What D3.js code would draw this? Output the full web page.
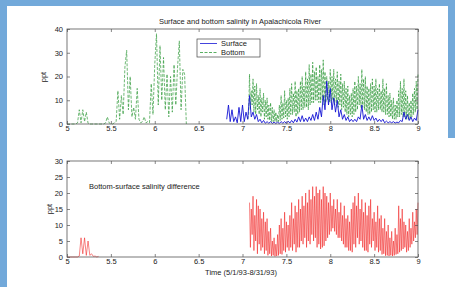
<!DOCTYPE html>
<html>
<head>
<meta charset="utf-8">
<script src="https://cdn.jsdelivr.net/npm/d3@7"></script>
<style>
  body { margin: 0; background: #fff; }
  text { font-family: "Liberation Sans", Arial, sans-serif; fill: #222; }
</style>
</head>
<body>
<div id="chart"></div>
<script>
// sampling grids of the record (months)
const dtCoarse = 0.02;
const dtFine = 0.01;

// bottom salinity, first stretch from 5.00 (coarse grid)
const bottomStartA = 5.00;
const bottomA = [0,0,0,0,0,0,0.5,6,0.5,6,1,5,0.3,0,0,0,0,0,0,0,0,0,0.5,3,0.5,0,0,0.5,1,14,2,12,4,24,31,6,20,3,7,2,15,2,0.5,1,3,0.5,1,0.5,17,4,25,38,8,33,10,28,6,21,3,20,5,25,8,24,35,6,23,21,0];
// bottom salinity, second stretch from 7.06 (fine grid)
const bottomStartB = 7.06;
const bottomB = [2,4,
  21,6,14,8, 19,5,16,4, 17,6,12,4, 15,3,11,5, 13,2,10,3, 11,2,8,1.5, 9,1,7,1, 6,1,5,0.8,
  4,1,8,1.5, 12,2,9,2.5, 14,3,10,2, 11,3,15,4, 17,4,13,5, 18,3,14,4, 15,5,18,6, 20,6,16,7,
  22,7,19,6, 25,8,21,9, 26,9,22,10, 24,10,20,9, 25,9,23,10, 27,8,22,9, 20,10,18,9, 23,9,20,10,
  23,8,19,9, 22,7,18,8, 21,6,17,7, 18,5,15,4, 16,3,12,4, 13,3,15,4, 18,5,16,6, 20,8,17,7,
  23,7,19,6, 20,5,16,4, 15,4,17,5, 19,6,16,5, 19,5,15,6, 17,6,14,5, 19,5,15,4, 17,4,12,3,
  13,3,10,2, 11,2,8,2, 10,3,14,3, 18,4,15,3, 19,3,14,2, 12,2,9,2, 10,3,13,4, 15,5,18,6, 21];

// surface salinity from 6.82 (coarse grid)
const surfaceStart = 6.82;
const surface = [2,8,1,6,1,3,0.5,7,1,8,1,5,2,12,3,5,2,4,1,2,0.5,1.5,0.3,1,0.3,1,0.2,0.8,0.2,0.8,0.2,1,0.3,1,0.3,1.2,0.4,1.5,0.5,2,0.8,3,1,3.5,1,2.5,1,3,1.5,4,1.5,5,2,7,3,12,6,18,8,15,6,11,5,10,3,6,2,4,1.5,3,1,2,1,2,1,3,2,8,2,4,1.5,3,1.5,3.5,1.5,2.5,1,2,1,2,0.5,1.2,0.5,1,0.5,1,0.4,0.8,0.5,1.5,1,5,2,4,1.5,3,1,2.5,1.5,6];

// bottom - surface difference: short burst from 5.00 (coarse), long stretch from 7.08 (fine)
const diffStartA = 5.00;
const diffA = [0,0,0,0,0,0,0,0.3,6,1,6,0.5,5,0.5,1,0.2,0.3,0,0.2];
const diffStartB = 7.08;
const diffB = [17,3,15,7,19,2,13,5,18,1, 16,4,15,2,12,3,14,1,11,2, 12,0.5,8,1,9,0.3,5,0.5,6,0.2,
  4,0.3,7,0.5,10,1,12,0.8,9,2, 14,1.5,11,3,10,2,13,3,17,2, 12,4,16,1.5,14,3,18,3,15,5,
  19,4,16,6,20,3,17,5,21,4, 18,7,22,5,19,6,22,3,20,4, 21,2.5,18,3,22,3.5,20,5,19,6,
  17,7,20,8,16,9,18,8,15,7, 18,6,14,6,17,5,13,4,16,3, 12,3,13,2,11,2,15,1.5,17,4,
  19,3,16,6,20,4,15,5,18,3, 14,2,17,2,13,1.5,16,4,18,3, 12,5,14,2,11,3,16,1.5,12,2,
  13,0.8,9,1,12,0.4,8,0.5,10,0.3, 6,0.5,8,0.3,5,0.5,9,0.8,7,1, 16,1.5,12,2,15,2.5,11,3,10,1.5,
  8,2,12,3,9,4,14,5,11,6, 15,7,17];

const xTicks = [5, 5.5, 6, 6.5, 7, 7.5, 8, 8.5, 9];
const topYTicks = [0, 10, 20, 30, 40];
const botYTicks = [0, 5, 10, 15, 20, 25, 30];

const W = 455, H = 287;
const svg = d3.select('#chart').append('svg').attr('width', W).attr('height', H);

// slide frame
svg.append('rect').attr('x', 0).attr('y', 0).attr('width', W).attr('height', 6).attr('fill', '#72a9da');
svg.append('rect').attr('x', 0).attr('y', 0).attr('width', 7).attr('height', H).attr('fill', '#72a9da');
svg.append('rect').attr('x', 448).attr('y', 0).attr('width', 7).attr('height', 138).attr('fill', '#72a9da');

const toPoints = (start, step, vals) => vals.map((v, i) => [start + i * step, v]);

const x = d3.scaleLinear().domain([5, 9]).range([67, 418]);
const yTop = d3.scaleLinear().domain([0, 40]).range([124, 29]);
const yBot = d3.scaleLinear().domain([0, 30]).range([257, 161]);

function axes(g, y, yTicks, bottom, top) {
    const fmt = d => String(d);
    const ax = g.append('g').attr('transform', `translate(0,${bottom})`)
        .call(d3.axisBottom(x).tickValues(xTicks).tickSize(-3).tickPadding(2).tickFormat(fmt));
    const axT = g.append('g').attr('transform', `translate(0,${top})`)
        .call(d3.axisTop(x).tickValues(xTicks).tickSize(-3).tickFormat(''));
    const ay = g.append('g').attr('transform', `translate(${x(5)},0)`)
        .call(d3.axisLeft(y).tickValues(yTicks).tickSize(-3).tickPadding(4).tickFormat(fmt));
    const ayR = g.append('g').attr('transform', `translate(${x(9)},0)`)
        .call(d3.axisRight(y).tickValues(yTicks).tickSize(-3).tickFormat(''));
    [ax, axT, ay, ayR].forEach(a => {
        a.select('.domain').remove();
        a.selectAll('line').attr('stroke', '#555').attr('stroke-width', 0.7);
        a.selectAll('text').attr('font-size', 7.5).attr('fill', '#222')
            .attr('font-family', '"Liberation Sans", Arial, sans-serif');
    });
    g.append('rect')
        .attr('x', x(5)).attr('y', top)
        .attr('width', x(9) - x(5)).attr('height', bottom - top)
        .attr('fill', 'none').attr('stroke', '#555').attr('stroke-width', 0.8);
}

// ---- top panel
const gTop = svg.append('g');
const lineTop = d3.line().x(d => x(d[0])).y(d => yTop(d[1]));

[toPoints(bottomStartA, dtCoarse, bottomA), toPoints(bottomStartB, dtFine, bottomB)].forEach(pts => {
    gTop.append('path').attr('d', lineTop(pts))
        .attr('fill', 'none').attr('stroke', '#2f9a3a').attr('stroke-width', 0.7)
        .attr('stroke-dasharray', '3,1.5');
});
gTop.append('path').attr('d', lineTop(toPoints(surfaceStart, dtCoarse, surface)))
    .attr('fill', 'none').attr('stroke', '#1414d4').attr('stroke-width', 0.9);

axes(gTop, yTop, topYTicks, 124, 29);

svg.append('text').attr('x', 240).attr('y', 23.5).attr('text-anchor', 'middle')
    .attr('font-size', 7.5).text('Surface and bottom salinity in Apalachicola River');
svg.append('text').attr('transform', 'translate(46,77) rotate(-90)').attr('text-anchor', 'middle')
    .attr('font-size', 7.5).text('ppt');

// legend
const lg = svg.append('g');
lg.append('rect').attr('x', 197).attr('y', 39).attr('width', 63).attr('height', 18)
    .attr('fill', '#fff').attr('stroke', '#444').attr('stroke-width', 0.7);
lg.append('line').attr('x1', 200).attr('x2', 217).attr('y1', 43.5).attr('y2', 43.5)
    .attr('stroke', '#1414d4').attr('stroke-width', 0.8);
lg.append('line').attr('x1', 200).attr('x2', 217).attr('y1', 52.5).attr('y2', 52.5)
    .attr('stroke', '#2f9a3a').attr('stroke-width', 0.8).attr('stroke-dasharray', '3,1.5');
lg.append('text').attr('x', 221).attr('y', 46).attr('font-size', 7.5).text('Surface');
lg.append('text').attr('x', 221).attr('y', 55).attr('font-size', 7.5).text('Bottom');

// ---- bottom panel
const gBot = svg.append('g');
const lineBot = d3.line().x(d => x(d[0])).y(d => yBot(d[1]));

[toPoints(diffStartA, dtCoarse, diffA), toPoints(diffStartB, dtFine, diffB)].forEach(pts => {
    gBot.append('path').attr('d', lineBot(pts))
        .attr('fill', 'none').attr('stroke', '#f01c1c').attr('stroke-width', 0.55);
});

axes(gBot, yBot, botYTicks, 257, 161);

svg.append('text').attr('x', 89).attr('y', 188.5).attr('font-size', 7.5)
    .text('Bottom-surface salinity difference');
svg.append('text').attr('transform', 'translate(52,209) rotate(-90)').attr('text-anchor', 'middle')
    .attr('font-size', 7.5).text('ppt');
svg.append('text').attr('x', 241).attr('y', 274.5).attr('text-anchor', 'middle')
    .attr('font-size', 7.5).text('Time (5/1/93-8/31/93)');
</script>
</body>
</html>
